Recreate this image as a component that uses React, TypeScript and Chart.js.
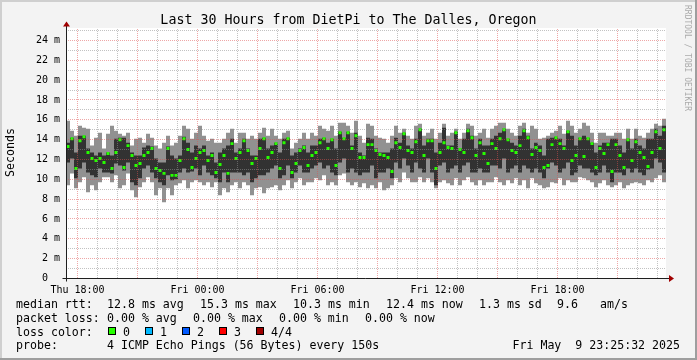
import React, { useEffect, useRef } from "react";
import { Chart, registerables } from "chart.js";

Chart.register(...registerables);

const TITLE = "Last 30 Hours from DietPi to The Dalles, Oregon";
const Y_TITLE = "Seconds";
const WATERMARK = "RRDTOOL / TOBI OETIKER";

// time axis: hours since Thu 00:00
const START_HOUR = 17 + 25 / 60 + 32 / 3600; // Thu 17:25:32
const SPAN_HOURS = 30;
const STEP_HOURS = 0.2;

const X_TICK_HOURS = [18, 19, 20, 21, 22, 23, 24, 25, 26, 27, 28, 29, 30, 31, 32, 33, 34, 35, 36, 37, 38, 39, 40, 41, 42, 43, 44, 45, 46, 47];
const X_TICK_LABELS: Record<number, string> = {
  18: "Thu 18:00",
  24: "Fri 00:00",
  30: "Fri 06:00",
  36: "Fri 12:00",
  42: "Fri 18:00",
};
const Y_TICKS = [0, 1, 2, 3, 4, 5, 6, 7, 8, 9, 10, 11, 12, 13, 14, 15, 16, 17, 18, 19, 20, 21, 22, 23, 24, 25];
const Y_MAX = 25.21;

// ms — ping 1 (min), ping 2, median, ping 3, ping 4 (max)
const pingMin = [
  9.4, 10.6, 9.1, 9.7, 10.2, 8.7, 9.4, 8.9, 9.7, 10.2,
  10.2, 9.7, 10.4, 9.1, 9.4, 10.6, 8.9, 8.2, 9.2, 9.7,
  10.2, 9.7, 8.4, 9.1, 7.7, 9.1, 8.4, 9.4, 9.6, 9.9,
  9.1, 9.7, 9.9, 9.7, 9.4, 9.7, 9.2, 9.7, 8.4, 9.1,
  8.7, 9.4, 9.7, 9.1, 9.7, 9.4, 8.4, 9.1, 9.2, 8.6,
  9.1, 9.2, 9.4, 8.9, 9.4, 9.9, 9.1, 9.7, 10.1, 9.4,
  9.7, 9.7, 10.1, 9.9, 10.4, 9.4, 9.7, 9.4, 10.4, 10.6,
  9.7, 9.4, 9.7, 9.2, 9.6, 9.1, 9.4, 9.1, 9.7, 8.9,
  9.1, 9.4, 10.1, 9.7, 10.7, 10.1, 9.7, 9.7, 10.2, 9.7,
  10.1, 9.7, 9.1, 9.7, 9.9, 9.6, 9.4, 10.1, 9.4, 9.9,
  10.2, 9.7, 9.4, 9.9, 9.4, 9.7, 9.7, 10.2, 9.7, 9.4,
  9.9, 9.6, 10.1, 9.4, 9.9, 9.1, 10.1, 9.6, 9.4, 9.1,
  9.2, 9.7, 9.6, 10.1, 9.4, 9.9, 9.7, 9.7, 10.2, 10.1,
  9.9, 9.7, 9.2, 9.6, 9.9, 9.4, 9.2, 9.4, 9.7, 9.1,
  9.4, 9.6, 9.7, 9.6, 9.4, 9.9, 9.7, 10.1, 10.4, 9.7,
];
const pingLow = [
  11.7, 12.1, 10.1, 11.1, 11.7, 10.7, 10.4, 10.2, 11.1, 10.7,
  10.7, 10.6, 11.6, 11.4, 10.9, 11.7, 9.7, 9.4, 10.1, 11.1,
  11.4, 10.7, 10.1, 9.7, 9.4, 10.4, 9.9, 10.0, 10.7, 11.1,
  10.7, 10.8, 11.1, 10.4, 11.4, 10.7, 10.4, 10.1, 9.7, 10.7,
  9.7, 10.7, 10.7, 10.7, 10.4, 10.7, 9.7, 10.1, 10.4, 10.4,
  10.7, 11.1, 11.4, 10.1, 10.4, 11.4, 10.1, 10.7, 11.4, 10.7,
  10.7, 11.1, 11.4, 11.7, 11.1, 11.4, 10.7, 10.4, 11.7, 12.1,
  10.7, 11.1, 10.7, 10.4, 10.7, 10.7, 11.4, 10.1, 10.7, 10.7,
  11.1, 10.1, 11.7, 11.1, 12.1, 11.4, 10.7, 11.7, 11.1, 10.7,
  12.1, 10.7, 9.4, 11.4, 11.7, 10.7, 11.1, 11.4, 10.7, 11.4,
  11.7, 10.7, 10.7, 11.1, 10.7, 10.7, 11.4, 11.4, 11.1, 12.1,
  10.7, 11.1, 11.4, 10.7, 11.4, 11.1, 10.7, 11.1, 10.7, 10.1,
  11.1, 11.7, 11.4, 10.7, 11.1, 11.7, 10.4, 10.7, 11.4, 11.1,
  11.1, 10.7, 10.4, 10.7, 11.4, 10.7, 9.7, 10.7, 10.7, 10.4,
  11.1, 10.7, 11.1, 10.7, 10.4, 11.0, 11.1, 12.1, 11.7, 10.7,
];
const medianRtt = [
  13.3, 14.1, 11.1, 13.9, 14.3, 12.7, 12.1, 11.9, 12.1, 11.7,
  12.6, 11.1, 12.7, 14.0, 11.2, 13.4, 12.4, 11.4, 11.6, 12.4,
  12.7, 13.1, 11.1, 10.9, 10.6, 13.1, 10.4, 10.4, 11.9, 14.1,
  13.0, 11.2, 12.1, 12.7, 12.9, 11.9, 12.4, 10.7, 11.5, 12.4,
  10.6, 13.6, 12.1, 12.7, 13.9, 12.9, 11.6, 12.1, 13.1, 14.1,
  12.2, 12.7, 13.6, 11.1, 13.7, 14.1, 10.7, 11.6, 12.9, 13.2,
  11.4, 12.4, 12.7, 13.7, 14.1, 13.1, 14.0, 11.4, 14.7, 14.1,
  14.7, 13.1, 14.4, 12.2, 12.2, 13.5, 13.5, 12.9, 12.5, 12.4,
  12.2, 10.8, 13.7, 13.2, 14.6, 12.9, 12.7, 13.8, 15.0, 12.4,
  13.9, 13.9, 11.1, 12.7, 13.7, 13.2, 13.1, 14.7, 13.0, 12.7,
  14.9, 14.2, 12.4, 13.7, 12.6, 11.6, 13.6, 13.1, 14.1, 15.0,
  14.0, 12.9, 12.7, 13.4, 14.9, 14.2, 12.5, 13.2, 12.9, 11.2,
  11.4, 13.5, 14.2, 13.6, 13.1, 14.8, 11.9, 12.4, 14.1, 12.3,
  14.1, 13.6, 11.2, 13.1, 12.6, 13.5, 10.8, 13.5, 12.4, 11.2,
  14.0, 11.9, 13.8, 12.7, 12.2, 11.3, 12.7, 14.8, 13.1, 15.0,
];
const pingHigh = [
  13.7, 14.2, 12.7, 14.4, 14.4, 13.1, 12.7, 12.4, 12.7, 12.4,
  12.7, 12.4, 14.1, 14.2, 14.2, 13.7, 12.7, 12.4, 12.4, 13.2,
  13.4, 13.3, 12.1, 11.7, 11.7, 13.3, 12.4, 12.1, 12.4, 14.3,
  13.7, 12.7, 13.4, 13.1, 13.4, 12.4, 12.7, 11.7, 12.7, 13.1,
  13.4, 14.1, 12.7, 13.1, 14.1, 13.1, 12.4, 12.4, 14.1, 14.2,
  13.1, 13.4, 13.7, 12.7, 14.1, 14.2, 12.4, 12.7, 13.1, 13.4,
  12.7, 13.4, 13.4, 14.1, 14.2, 13.7, 14.1, 13.1, 14.8, 14.2,
  14.8, 13.4, 14.7, 12.7, 12.4, 14.2, 14.1, 13.1, 12.7, 12.7,
  12.7, 13.1, 14.2, 13.7, 14.7, 13.4, 13.1, 14.1, 15.1, 13.4,
  14.1, 14.1, 12.7, 13.7, 15.2, 13.4, 13.4, 14.8, 13.1, 14.1,
  15.1, 14.4, 13.1, 14.1, 13.4, 13.4, 14.1, 14.4, 14.7, 15.1,
  14.1, 13.7, 13.4, 14.4, 15.1, 14.4, 13.1, 13.7, 13.4, 12.4,
  14.1, 14.2, 14.3, 14.1, 13.4, 14.9, 14.4, 13.4, 14.2, 14.4,
  14.2, 13.7, 12.7, 13.4, 13.7, 13.7, 14.1, 14.1, 13.4, 12.7,
  14.1, 13.1, 14.1, 13.4, 13.1, 14.1, 14.1, 15.1, 14.4, 15.4,
];
const pingMax = [
  15.9, 14.9, 14.4, 15.4, 15.2, 15.1, 13.4, 14.2, 14.7, 13.1,
  14.6, 15.4, 14.9, 14.6, 14.4, 14.7, 13.4, 14.1, 14.2, 13.7,
  14.6, 14.2, 13.4, 13.1, 13.7, 14.4, 13.4, 13.7, 14.4, 15.4,
  15.1, 14.1, 14.7, 15.4, 14.4, 13.9, 14.1, 13.7, 13.7, 14.1,
  14.7, 15.1, 13.7, 14.7, 14.7, 14.1, 14.4, 14.1, 14.7, 15.2,
  14.4, 15.1, 14.4, 14.1, 14.7, 14.9, 13.1, 13.7, 14.1, 14.7,
  14.1, 14.7, 14.4, 15.4, 15.1, 14.9, 15.4, 14.4, 15.7, 15.7,
  15.4, 14.7, 15.9, 14.4, 13.7, 15.6, 15.4, 14.4, 14.2, 14.1,
  13.7, 14.4, 15.4, 14.7, 15.1, 14.4, 14.1, 15.4, 15.6, 14.4,
  14.7, 15.1, 14.1, 14.7, 15.6, 14.4, 14.7, 15.1, 14.1, 14.7,
  15.6, 15.4, 14.4, 14.7, 15.1, 14.2, 15.1, 15.4, 15.7, 15.7,
  15.1, 14.7, 14.4, 15.4, 15.7, 14.7, 15.4, 15.1, 14.1, 14.2,
  14.4, 14.7, 14.9, 15.4, 14.6, 15.9, 15.4, 14.7, 15.1, 15.7,
  15.4, 14.7, 13.7, 14.7, 14.7, 14.4, 14.4, 14.7, 14.7, 14.1,
  15.1, 14.1, 15.1, 14.4, 14.2, 14.7, 15.1, 15.6, 15.4, 16.1,
];

const LEGEND_RTT = ["median rtt:", "12.8 ms avg", "15.3 ms max", "10.3 ms min", "12.4 ms now", "1.3 ms sd", "9.6", "am/s"];
const LEGEND_LOSS = ["packet loss:", "0.00 % avg", "0.00 % max", "0.00 % min", "0.00 % now"];
const LOSS_TITLE = "loss color:";
const LOSS_LABELS = ["0", "1", "2", "3", "4/4"];
const PROBE = ["probe:", "4 ICMP Echo Pings (56 Bytes) every 150s"];
const TIMESTAMP = "Fri May  9 23:25:32 2025";

// styles / layout
const LOSS_COLORS = ["#26ff00", "#00b8ff", "#0059ff", "#ff0000", "#a00000"];
const RTT_X = [16, 107, 200, 293, 386, 479, 557, 600];
const LOSS_X = [16, 107, 193, 279, 365];
const PROBE_X = [16, 107];
const MONO = '"DejaVu Sans Mono", monospace';
const GRID = "rgba(143,143,143,0.55)";
const MGRID = "rgba(222,80,80,0.5)";

// dotted vertical (time) grid lines, placed through the x scale
function drawTimeGrid(chart: any) {
  const { ctx, chartArea: a, scales } = chart;
  const xs = scales.x;
  const top = Math.floor(a.top);
  const bottom = Math.floor(a.bottom);
  ctx.save();
  X_TICK_HOURS.forEach((h) => {
    const px = Math.floor(xs.getPixelForValue(h));
    ctx.fillStyle = h % 3 === 0 ? MGRID : GRID;
    for (let y = top + 1; y < bottom; y += 2) ctx.fillRect(px, y, 1, 1);
  });
  ctx.restore();
}

const decor = {
  id: "decor",
  beforeDraw(chart: any) {
    const { ctx, chartArea: a, width, height } = chart;
    ctx.save();
    ctx.fillStyle = "#f3f3f3";
    ctx.fillRect(0, 0, width, height);
    ctx.fillStyle = "#cfcfcf";
    ctx.fillRect(0, 0, width, 2);
    ctx.fillRect(0, 0, 2, height);
    ctx.fillStyle = "#9e9e9e";
    ctx.fillRect(width - 2, 0, 2, height);
    ctx.fillRect(0, height - 2, width, 2);
    ctx.fillStyle = "#ffffff";
    const top = Math.floor(a.top);
    ctx.fillRect(a.left, top, a.right - a.left, Math.ceil(a.bottom) - top);
    ctx.restore();
  },
  afterDraw(chart: any) {
    const { ctx, chartArea: a } = chart;
    drawTimeGrid(chart);
    ctx.save();
    // axes
    const ax = Math.floor(a.left) + 0.5;
    const ay = Math.floor(a.bottom) + 0.5;
    ctx.strokeStyle = "#1f1f1f";
    ctx.lineWidth = 1;
    ctx.beginPath();
    ctx.moveTo(ax - 4, ay);
    ctx.lineTo(a.right + 3, ay);
    ctx.moveTo(ax, ay + 3);
    ctx.lineTo(ax, a.top - 3);
    ctx.stroke();
    ctx.fillStyle = "#a00000";
    ctx.beginPath();
    ctx.moveTo(a.right + 8, ay);
    ctx.lineTo(a.right + 3, ay - 3.5);
    ctx.lineTo(a.right + 3, ay + 3.5);
    ctx.closePath();
    ctx.fill();
    ctx.beginPath();
    ctx.moveTo(ax, a.top - 7);
    ctx.lineTo(ax - 3.5, a.top - 2);
    ctx.lineTo(ax + 3.5, a.top - 2);
    ctx.closePath();
    ctx.fill();

    // title
    ctx.fillStyle = "#000";
    ctx.textBaseline = "alphabetic";
    ctx.textAlign = "center";
    ctx.font = `13.3px ${MONO}`;
    ctx.fillText(TITLE, 348.5, 23.5);

    // y title
    ctx.save();
    ctx.translate(14, 152.5);
    ctx.rotate(-Math.PI / 2);
    ctx.font = `11.6px ${MONO}`;
    ctx.textAlign = "center";
    ctx.fillText(Y_TITLE, 0, 0);
    ctx.restore();

    // watermark
    ctx.save();
    ctx.translate(685, 5);
    ctx.rotate(Math.PI / 2);
    ctx.font = `8px ${MONO}`;
    ctx.textAlign = "left";
    ctx.fillStyle = "#aaaaaa";
    ctx.fillText(WATERMARK, 0, 0);
    ctx.restore();

    // legend
    ctx.font = `11.6px ${MONO}`;
    ctx.textAlign = "left";
    ctx.fillStyle = "#000";
    LEGEND_RTT.forEach((s, i) => ctx.fillText(s, RTT_X[i], 308));
    LEGEND_LOSS.forEach((s, i) => ctx.fillText(s, LOSS_X[i], 322));
    ctx.fillText(LOSS_TITLE, 16, 335.5);
    LOSS_LABELS.forEach((s, i) => {
      const bx = 108 + 37 * i;
      ctx.fillStyle = "#000";
      ctx.fillRect(bx, 327, 8, 8);
      ctx.fillStyle = LOSS_COLORS[i];
      ctx.fillRect(bx + 1, 328, 6, 6);
      ctx.fillStyle = "#000";
      ctx.fillText(s, bx + 15, 335.5);
    });
    PROBE.forEach((s, i) => ctx.fillText(s, PROBE_X[i], 349));
    ctx.textAlign = "right";
    ctx.fillText(TIMESTAMP, 680, 349);
    ctx.restore();
  },
};

export default function App() {
  const ref = useRef<HTMLCanvasElement | null>(null);

  useEffect(() => {
    if (!ref.current) return;
    const times = medianRtt.map((_, i) => START_HOUR + (i + 0.5) * STEP_HOURS);
    const band = (lo: number[], hi: number[]) => times.map((t, i) => ({ x: t, y: [lo[i], hi[i]] }));
    const medData = times.map((t, i) => ({ x: t, y: [medianRtt[i] - 0.15, medianRtt[i] + 0.15] }));
    const common = { grouped: false, borderWidth: 0, inflateAmount: 0, categoryPercentage: 1 };

    const chart = new Chart(ref.current, {
      type: "bar",
      data: {
        datasets: [
          { label: "median", data: medData, backgroundColor: LOSS_COLORS[0], barPercentage: 0.75, order: 1, ...common } as any,
          { label: "ping 2-3", data: band(pingLow, pingHigh), backgroundColor: "#323232", barPercentage: 1, order: 2, ...common } as any,
          { label: "ping 1-4", data: band(pingMin, pingMax), backgroundColor: "#919191", barPercentage: 1, order: 3, ...common } as any,
        ],
      },
      options: {
        animation: false,
        responsive: false,
        devicePixelRatio: 1,
        events: [],
        layout: { padding: { top: 28.5, right: 31, left: 0, bottom: 0 } },
        plugins: { legend: { display: false }, tooltip: { enabled: false }, title: { display: false } },
        scales: {
          x: {
            type: "linear",
            offset: false,
            min: START_HOUR,
            max: START_HOUR + SPAN_HOURS,
            afterFit: (s: any) => { s.height = 81.5; },
            afterBuildTicks: (s: any) => { s.ticks = X_TICK_HOURS.map((v) => ({ value: v })); },
            grid: { display: false, offset: false, drawTicks: false },
            border: { display: false },
            ticks: {
              autoSkip: false,
              maxRotation: 0,
              minRotation: 0,
              padding: 6,
              color: "#000",
              font: { family: MONO, size: 10 },
              callback: (v: any) => X_TICK_LABELS[v as number] ?? "",
            },
          },
          y: {
            type: "linear",
            min: 0,
            max: Y_MAX,
            afterFit: (s: any) => { s.width = 66; },
            afterBuildTicks: (s: any) => { s.ticks = Y_TICKS.map((v) => ({ value: v })); },
            grid: {
              z: 1,
              drawTicks: false,
              lineWidth: 1,
              color: (c: any) => (c.tick && c.tick.value % 2 === 0 ? MGRID : GRID),
            },
            border: { display: false, dash: [1, 1] },
            ticks: {
              autoSkip: false,
              padding: 6,
              color: "#000",
              font: { family: MONO, size: 10 },
              callback: (v: any) => (v === 0 ? "0  " : v % 2 === 0 ? `${v} m` : ""),
            },
          },
        },
      } as any,
      plugins: [decor],
    });
    return () => chart.destroy();
  }, []);

  return (
    <div style={{ position: "absolute", left: 0, top: 0, width: 697, height: 360 }}>
      <canvas ref={ref} width={697} height={360} style={{ display: "block", width: 697, height: 360 }} />
    </div>
  );
}
